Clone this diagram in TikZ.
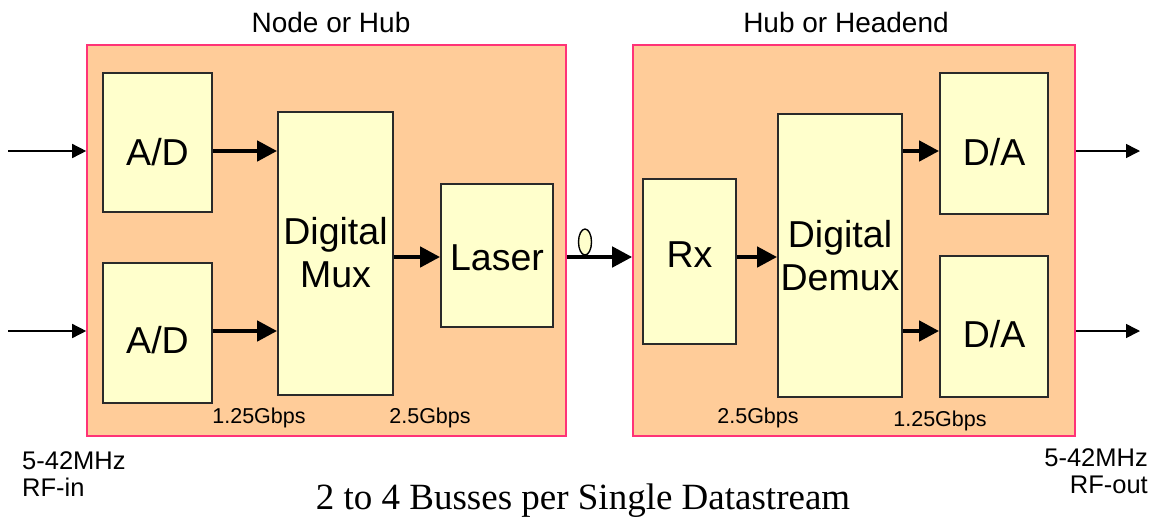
\documentclass[tikz,border=0pt]{standalone}
\usepackage{fontspec}
\setmainfont{Liberation Serif}
\newfontfamily\arialfont{Liberation Sans}
\usetikzlibrary{arrows.meta,shapes.geometric}
\definecolor{peach}{HTML}{FFCC99}
\definecolor{paleyellow}{HTML}{FFFFCC}
\definecolor{rimpink}{HTML}{FF3377}
\definecolor{rimdark}{HTML}{2A2A2A}
\tikzset{
  site/.style={draw=rimpink, line width=1.6pt, fill=peach, rectangle, inner sep=0pt},
  unit/.style={draw=rimdark, line width=1.8pt, fill=paleyellow, rectangle, inner sep=0pt},
  unittext/.style={font=\arialfont\fontsize{37.5}{43}\selectfont, inner sep=0pt, align=center},
  small/.style={font=\arialfont\fontsize{21.5}{25}\selectfont, inner sep=0pt},
  sitetitle/.style={font=\arialfont\fontsize{28}{32}\selectfont, inner sep=0pt},
  port/.style={font=\arialfont\fontsize{25.5}{29}\selectfont, inner sep=0pt},
  busarrow/.style={line width=4.5pt, -{Triangle[length=20pt,width=20pt]}},
  wirearrow/.style={line width=1.5pt, -{Triangle[length=14pt,width=14pt]}},
}
\begin{document}
\begin{tikzpicture}[x=1pt,y=-1pt]
\useasboundingbox (0,0) rectangle (1155,520);

% the two sites
\node[site, minimum width=479pt, minimum height=391pt] (nodehub) at (326.5,240.5) {};
\node[site, minimum width=442pt, minimum height=391pt] (headend) at (854,240.5) {};
\node[sitetitle] (nodehubtitle) at (331,22) {Node or Hub};
\node[sitetitle] (headendtitle) at (846,22) {Hub or Headend};

% transmit side units
\node[unit, minimum width=109pt, minimum height=139pt] (ad1) at (157.5,142.5) {};
\node[unit, minimum width=109pt, minimum height=140pt] (ad2) at (157.5,333) {};
\node[unit, minimum width=115pt, minimum height=283pt] (mux) at (335.5,253.5) {};
\node[unit, minimum width=112pt, minimum height=143pt] (laser) at (497,255.5) {};
\node[unittext] (ad1t) at (157.5,152) {A/D};
\node[unittext] (ad2t) at (157.5,340) {A/D};
\node[unittext] (muxt) at (335.5,253) {Digital\\Mux};
\node[unittext] (lasert) at (497,258) {Laser};

% receive side units
\node[unit, minimum width=93pt, minimum height=165pt] (rx) at (689.5,261.5) {};
\node[unit, minimum width=124pt, minimum height=283pt] (demux) at (840,255.5) {};
\node[unit, minimum width=108pt, minimum height=141pt] (da1) at (994,143.5) {};
\node[unit, minimum width=108pt, minimum height=141pt] (da2) at (994,326.5) {};
\node[unittext] (rxt) at (689.5,255) {Rx};
\node[unittext] (demuxt) at (840,256) {Digital\\Demux};
\node[unittext] (da1t) at (994,152) {D/A};
\node[unittext] (da2t) at (994,334) {D/A};

% rates
\node[small] (r1) at (259,418) {1.25Gbps};
\node[small] (r2) at (430,418) {2.5Gbps};
\node[small] (r3) at (758,418) {2.5Gbps};
\node[small] (r4) at (940,421) {1.25Gbps};

% RF ports
\node[port, align=left, anchor=north west] (rfin) at (22,451) {5-42MHz\\[-2pt]RF-in};
\node[port, align=right, anchor=north east] (rfout) at (1148,448) {5-42MHz\\[-2pt]RF-out};
\node[font=\fontsize{37}{42}\selectfont, inner sep=0pt] (bus) at (583,501) {2 to 4 Busses per Single Datastream};

% RF inputs and outputs
\coordinate (in1) at (8,151);
\coordinate (in2) at (8,331);
\coordinate (out1) at (1140,151);
\coordinate (out2) at (1140,331);
\draw[wirearrow] (in1) -- (in1 -| nodehub.west);
\draw[wirearrow] (in2) -- (in2 -| nodehub.west);
\draw[wirearrow] (out1 -| headend.east) -- (out1);
\draw[wirearrow] (out2 -| headend.east) -- (out2);

% data paths
\coordinate (l1) at (0,151);
\coordinate (l2) at (0,331);
\coordinate (lc) at (0,257);
\draw[busarrow] (l1 -| ad1.east) -- (l1 -| mux.west);
\draw[busarrow] (l2 -| ad2.east) -- (l2 -| mux.west);
\draw[busarrow] (lc -| mux.east) -- (lc -| laser.west);
\draw[busarrow] (lc -| rx.east) -- (lc -| demux.west);
\draw[busarrow] (l1 -| demux.east) -- (l1 -| da1.west);
\draw[busarrow] (l2 -| demux.east) -- (l2 -| da2.west);

% fibre link with its loop
\draw[busarrow] (lc -| nodehub.east) -- (lc -| headend.west);
\node[ellipse, draw=black, line width=1.4pt, fill=paleyellow, minimum width=13pt, minimum height=26pt, inner sep=0pt] (loop) at (585,242) {};
\end{tikzpicture}
\end{document}
